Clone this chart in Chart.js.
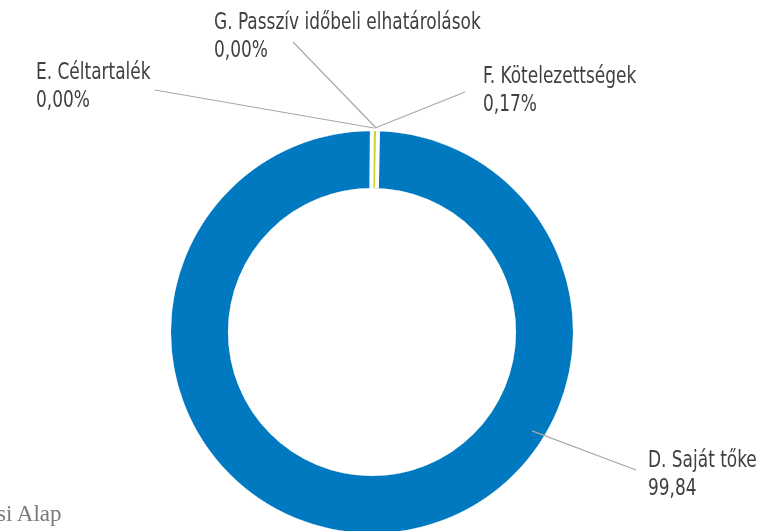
<!DOCTYPE html>
<html>
<head>
<meta charset="utf-8">
<script src="https://cdn.jsdelivr.net/npm/chart.js@4.4.0/dist/chart.umd.min.js"></script>
<style>
  html, body { margin: 0; padding: 0; background: #fff; }
  #wrap { position: relative; width: 767px; height: 531px; overflow: hidden; }
  #logo { position: absolute; left: -3px; top: 501px; font: 23px "Liberation Serif", serif; color: #7a7a7a; }
</style>
</head>
<body>
<div id="wrap">
  <canvas id="chart" width="767" height="560"></canvas>
  <div id="logo">si Alap</div>
</div>
<script>
const categories = [`D. Saját tőke`, `E. Céltartalék`, `F. Kötelezettségek`, `G. Passzív időbeli elhatárolások`];
const shares = [99.84, 0.00, 0.17, 0.00];
const valueLabels = [`99,84`, `0,00%`, `0,17%`, `0,00%`];
const sliceColors = [`#0079c1`, `#9aa0a6`, `#cbd431`, `#7f7f7f`];
const sliceBorders = [8, 0, 0, 0];

// where each label sits (text left / first line middle, far end of leader line)
const labelLayout = [
  {textX: 648, textY: 461, lineX: 636, lineY: 470, ringAngle: 121.7, ringDepth: 0.74},
  {textX: 36, textY: 73, lineX: 155, lineY: 90},
  {textX: 483, textY: 77, lineX: 465, lineY: 92},
  {textX: 214, textY: 23, lineX: 293, lineY: 42},
];

// keep the thin slices inside the visible ring (the wide white border eats into it)
const ringClip = {
  id: `ringClip`,
  beforeDatasetDraw(chart) {
    const arc = chart.getDatasetMeta(0).data[0];
    const inset = sliceBorders[0] / 2;
    const ctx = chart.ctx;
    ctx.save();
    ctx.beginPath();
    ctx.arc(arc.x, arc.y, arc.outerRadius - inset, 0, Math.PI * 2);
    ctx.arc(arc.x, arc.y, arc.innerRadius + inset, 0, Math.PI * 2, true);
    ctx.clip();
  },
  afterDatasetDraw(chart) {
    chart.ctx.restore();
  }
};

const leaderLabels = {
  id: `leaderLabels`,
  afterDatasetsDraw(chart) {
    const ctx = chart.ctx;
    const arcs = chart.getDatasetMeta(0).data;
    ctx.save();
    labelLayout.forEach((lay, i) => {
      const p = arcs[i].getProps([`x`, `y`, `startAngle`, `endAngle`, `innerRadius`, `outerRadius`], true);
      let ang, r;
      if (lay.ringAngle !== undefined) {
        ang = lay.ringAngle * Math.PI / 180 - Math.PI / 2;
        r = p.innerRadius + (p.outerRadius - p.innerRadius) * lay.ringDepth;
      } else {
        ang = (p.startAngle + p.endAngle) / 2;
        r = p.outerRadius - 1;
      }
      ctx.strokeStyle = `#a8a8a8`;
      ctx.lineWidth = 1.2;
      ctx.beginPath();
      ctx.moveTo(p.x + Math.cos(ang) * r, p.y + Math.sin(ang) * r);
      ctx.lineTo(lay.lineX, lay.lineY);
      ctx.stroke();

      // condensed look: squeeze a narrow font a bit more
      ctx.save();
      ctx.translate(lay.textX, lay.textY);
      ctx.scale(0.82, 1);
      ctx.font = `23px "Liberation Sans Narrow", "DejaVu Sans Condensed", sans-serif`;
      ctx.textBaseline = `middle`;
      ctx.fillStyle = `#404040`;
      ctx.fillText(categories[i], 0, 0);
      ctx.fillText(valueLabels[i], 0, 28);
      ctx.restore();
    });
    ctx.restore();
  }
};

// eslint-disable-next-line no-unused-vars
const chart = new Chart(document.getElementById(`chart`), {
  type: `doughnut`,
  data: {
    labels: categories,
    datasets: [{
      data: shares,
      backgroundColor: sliceColors,
      borderColor: `#ffffff`,
      borderWidth: sliceBorders,
    }]
  },
  options: {
    responsive: false,
    animation: false,
    cutout: `68.3%`,
    rotation: 1.15,
    layout: {
      padding: {left: 163, right: 186, top: 123, bottom: 19}
    },
    plugins: {
      legend: {display: false},
      tooltip: {enabled: false},
    }
  },
  plugins: [ringClip, leaderLabels]
});
</script>
</body>
</html>
